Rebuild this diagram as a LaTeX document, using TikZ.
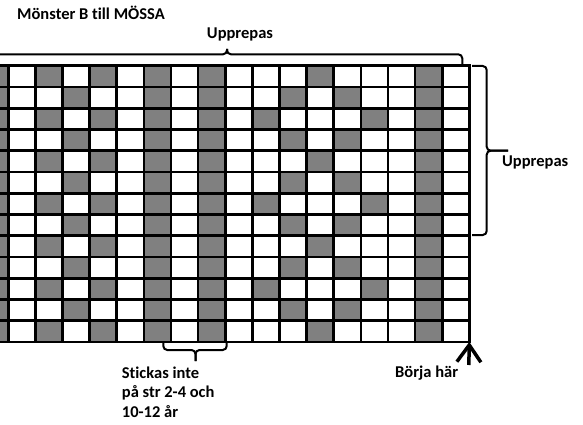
\documentclass[tikz,border=0pt]{standalone}
\usepackage{fontspec}
\setmainfont{Carlito}[Ligatures=NoCommon]
\usetikzlibrary{arrows.meta}
\definecolor{colG}{RGB}{128,128,128}
\tikzstyle{cell}=[fill=colG]
\tikzstyle{gline}=[line width=2.7pt, black, line cap=rect]
\tikzstyle{brace}=[line width=2pt, black, rounded corners=4pt]
\tikzstyle{lbl}=[inner sep=0pt, font=\fontsize{16.5}{19.5}\selectfont\bfseries]
\tikzstyle{startarrow}=[line width=3.5pt, -{Straight Barb[length=17pt,width=24pt]}]
\def\cellW{27.12}
\def\cellH{21.25}
\def\gridX{8.3}
\def\gridY{65.7}

\begin{document}
\begin{tikzpicture}[x=1pt,y=-1pt]
	\useasboundingbox (0,0) rectangle (583,425);
	\clip (0,0) rectangle (583,425);
	% gray cells, row / columns
	\foreach \r/\cols in {1/{0,2,4,6,8,12,16}, 2/{0,3,6,8,11,13,16}, 3/{0,2,4,6,8,10,14,16},
		4/{0,3,6,8,11,13,16}, 5/{0,2,4,6,8,12,16}, 6/{0,3,6,8,11,13,16}, 7/{0,2,4,6,8,10,14,16},
		8/{0,3,6,8,11,13,16}, 9/{0,2,4,6,8,12,16}, 10/{0,3,6,8,11,13,16}, 11/{0,2,4,6,8,10,14,16},
		12/{0,3,6,8,11,13,16}, 13/{0,2,4,6,8,12,16}}
		\foreach \c in \cols
			\fill[cell] ({\gridX+(\c-1)*\cellW},{\gridY+(\r-1)*\cellH}) rectangle ++(\cellW,\cellH);
	% grid
	\foreach \k in {-1,...,17}
		\draw[gline] ({\gridX+\k*\cellW},\gridY) -- ++(0,13*\cellH);
	\foreach \i in {0,...,13}
		\draw[gline] (-20,{\gridY+\i*\cellH}) -- ({\gridX+17*\cellW},{\gridY+\i*\cellH});
	\coordinate (corner) at ({\gridX+17*\cellW},{\gridY+13*\cellH});
	\coordinate (start) at (468.8,365);
	% braces
	\draw[brace] (-8.3,64.3) -- (-8.3,54.3) -- (227,54.3) -- (227,49);
	\draw[brace] (227,49) -- (227,54.3) -- (462.3,54.3) -- (462.3,64.3);
	\draw[brace] (472,66) -- (486.7,66) -- (486.7,150.7) -- (508,150.7);
	\draw[brace] (508,150.7) -- (486.7,150.7) -- (486.7,235) -- (472,235);
	\draw[brace] (163.3,342.7) -- (163.3,350) -- (195.5,350) -- (195.5,361);
	\draw[brace] (195.5,361) -- (195.5,350) -- (226.7,350) -- (226.7,342.7);
	\draw[startarrow] (start) -- (corner);
	% texts
	\node[lbl, anchor=base west] (title) at (17,19.3) {Mönster B till MÖSSA};
	\node[lbl, anchor=base] (toplbl) at (240,38.3) {Upprepas};
	\node[lbl, anchor=base west] (rightlbl) at (502,166.7) {Upprepas};
	\node[lbl, anchor=north west, align=left] (notelbl) at (121.7,366.5) {Stickas inte\\på str 2-4 och\\10-12 år};
	\node[lbl, anchor=base west] (startlbl) at (395,377.3) {Börja här};
\end{tikzpicture}
\end{document}
